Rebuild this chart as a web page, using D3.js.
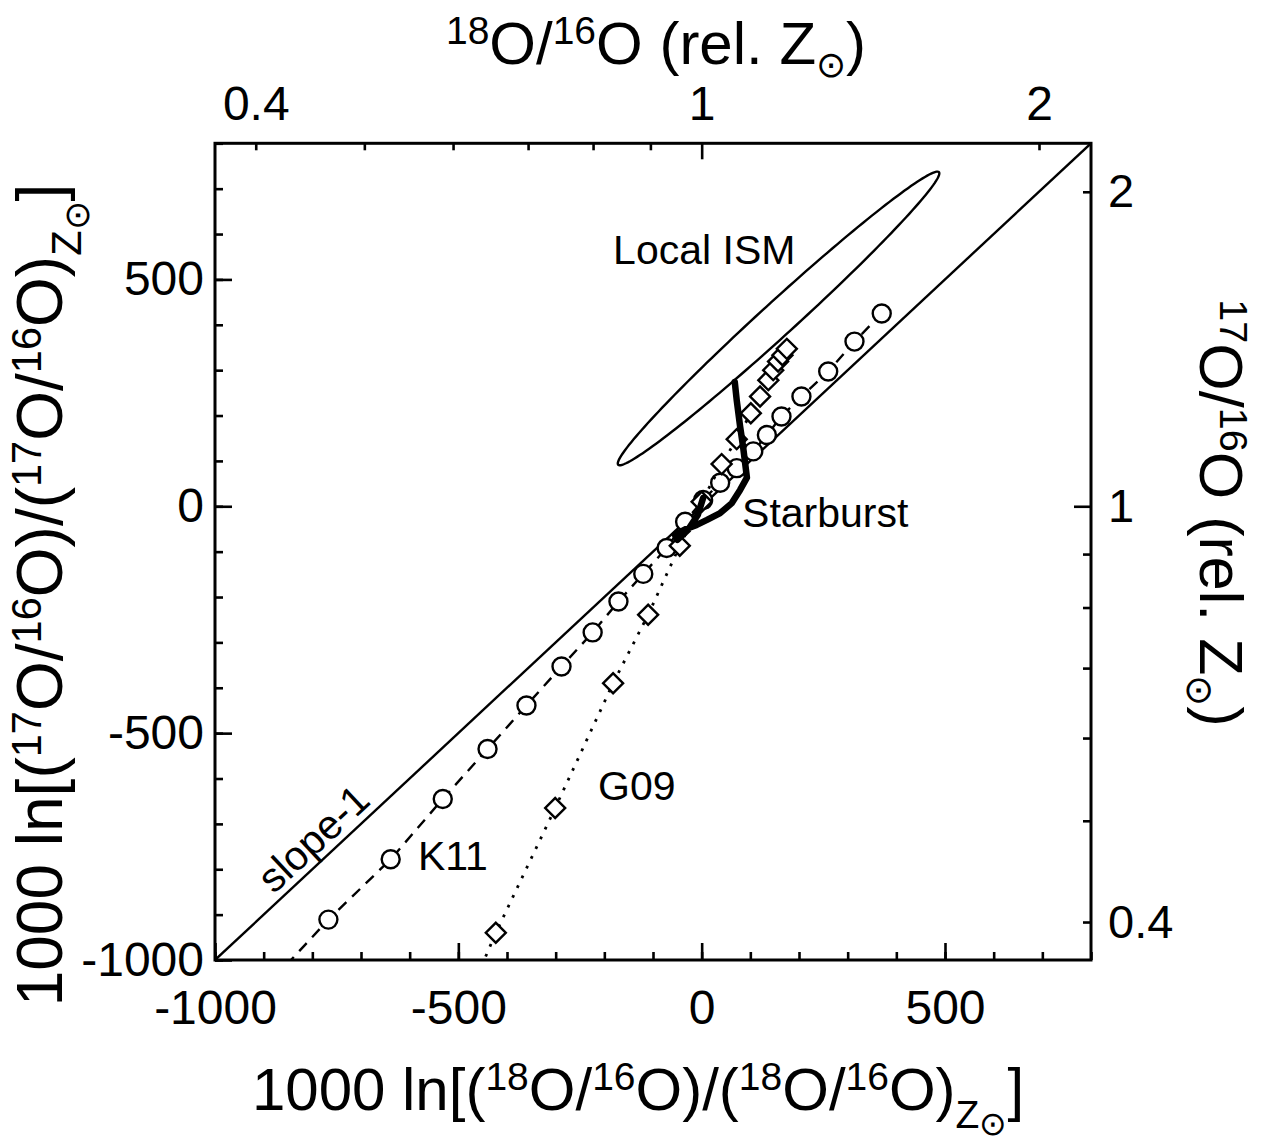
<!DOCTYPE html>
<html><head><meta charset="utf-8">
<script src="https://cdn.jsdelivr.net/npm/d3@7"></script>
<style>body{margin:0;background:#fff}svg{display:block}</style>
</head><body>
<script>
// ---------- data ----------
const xDomain = [-1000, 800];
const yDomain = [-1000, 800];
const linMajorTicks = [-1000, -500, 0, 500];
const linMinorTicks = [-1000,-900,-800,-700,-600,-500,-400,-300,-200,-100,0,100,200,300,400,500,600,700,800];
const ratioMinorTicks = [0.4, 0.5, 0.6, 0.7, 0.8, 0.9, 2];
const ratioMajorTicks = [1];
const ratioLabels = [0.4, 1, 2];

// K11 model (circles, dashed); first point lies below the frame
const k11X = [-880,-767,-639,-532,-440,-360,-288,-224,-171,-120,-72,-34,3,38,72,106,134,164,205,260,314,370];
const k11Y = [-1042,-911,-778,-645,-535,-439,-353,-278,-210,-149,-92,-34,14,52,84,121,157,198,242,297,363,425];
// G09 model (diamonds, dotted); first point lies below the frame
const g09X = [-470,-423,-301,-182,-110,-45,0,41,72,101,120,137,147,157,166,175];
const g09Y = [-1058,-940,-665,-390,-239,-87,10,93,148,205,242,278,300,319,333,347];
// Starburst track (thick line)
const sbX = [3,-8,-28,-50,-55,-32,-10,11,38,62,79,93,85,79,72,68];
const sbY = [18,-19,-52,-74,-63,-50,-41,-30,-15,7,36,63,132,176,234,274];
// Local ISM ellipse (data units)
const ismCenter = [158, 414];
const ismSemiAxes = [461, 36];
const ismAngleDeg = 44.4;
// annotation labels
const labelText = ['Local ISM', 'Starburst', 'G09', 'K11'];
const labelX = [-182, 83, -213, -583];
const labelY = [535, -45, -647, -801];
const slopeLabel = 'slope-1';
const slopeLabelPos = [-778, -755];

// ---------- layout ----------
const W = 1262, H = 1147;
const L = 215, R = 1091, T = 143.3, B = 960;
const FONT = "'Liberation Sans', Arial, Helvetica, sans-serif";

const svg = d3.select('body').append('svg').attr('width', W).attr('height', H)
  .style('font-family', FONT);

const x = d3.scaleLinear().domain(xDomain).range([L, R]);
const y = d3.scaleLinear().domain(yDomain).range([B, T]);
const xr = d3.scaleLog().domain(xDomain.map(v => Math.exp(v / 1000))).range([L, R]);
const yr = d3.scaleLog().domain(yDomain.map(v => Math.exp(v / 1000))).range([B, T]);

svg.append('defs').append('clipPath').attr('id', 'clip')
  .append('rect').attr('x', L).attr('y', T).attr('width', R - L).attr('height', B - T);

const fmt = d => String(d);
function styleAxis(g, fs) {
  g.select('.domain').remove();
  g.selectAll('.tick line').attr('stroke', '#000').attr('stroke-width', 2.6);
  g.selectAll('.tick text').attr('fill', '#000').attr('font-size', fs).attr('font-family', FONT);
}

// bottom
svg.append('g').attr('transform', `translate(0,${B})`)
  .call(d3.axisBottom(x).tickValues(linMinorTicks).tickSize(-8).tickFormat(''))
  .call(g => styleAxis(g, 48));
svg.append('g').attr('transform', `translate(0,${B})`)
  .call(d3.axisBottom(x).tickValues(linMajorTicks).tickSize(-17).tickPadding(30).tickFormat(fmt))
  .call(g => styleAxis(g, 48));
// left
svg.append('g').attr('transform', `translate(${L},0)`)
  .call(d3.axisLeft(y).tickValues(linMinorTicks).tickSize(-8).tickFormat(''))
  .call(g => styleAxis(g, 48));
svg.append('g').attr('transform', `translate(${L},0)`)
  .call(d3.axisLeft(y).tickValues(linMajorTicks).tickSize(-17).tickPadding(11).tickFormat(fmt))
  .call(g => styleAxis(g, 48));
// top (log ratio)
svg.append('g').attr('transform', `translate(0,${T})`)
  .call(d3.axisTop(xr).tickValues(ratioMinorTicks).tickSize(-7).tickFormat(''))
  .call(g => styleAxis(g, 48));
svg.append('g').attr('transform', `translate(0,${T})`)
  .call(d3.axisTop(xr).tickValues(ratioMajorTicks).tickSize(-16).tickFormat(''))
  .call(g => styleAxis(g, 48));
svg.append('g').attr('transform', `translate(0,${T})`)
  .call(d3.axisTop(xr).tickValues(ratioLabels).tickSize(0).tickPadding(23).tickFormat(fmt))
  .call(g => styleAxis(g, 48));
// right (log ratio)
svg.append('g').attr('transform', `translate(${R},0)`)
  .call(d3.axisRight(yr).tickValues(ratioMinorTicks).tickSize(-8).tickFormat(''))
  .call(g => styleAxis(g, 47));
svg.append('g').attr('transform', `translate(${R},0)`)
  .call(d3.axisRight(yr).tickValues(ratioMajorTicks).tickSize(-17).tickFormat(''))
  .call(g => styleAxis(g, 47));
svg.append('g').attr('transform', `translate(${R},0)`)
  .call(d3.axisRight(yr).tickValues(ratioLabels).tickSize(0).tickPadding(17).tickFormat(fmt))
  .call(g => styleAxis(g, 47));

// frame
svg.append('rect').attr('x', L).attr('y', T).attr('width', R - L).attr('height', B - T)
  .attr('fill', 'none').attr('stroke', '#000').attr('stroke-width', 3);

// ---------- plot content ----------
const plot = svg.append('g').attr('clip-path', 'url(#clip)');
const line = d3.line().x(d => x(d[0])).y(d => y(d[1]));

// slope-1 line
plot.append('path').datum([[xDomain[0], yDomain[0]], [xDomain[1], yDomain[1]]])
  .attr('d', line).attr('fill', 'none').attr('stroke', '#000').attr('stroke-width', 2.4);

// Local ISM ellipse
const th = ismAngleDeg * Math.PI / 180;
const ellPts = d3.range(0, 360, 2).map(a => {
  const t = a * Math.PI / 180;
  const u = ismSemiAxes[0] * Math.cos(t), v = ismSemiAxes[1] * Math.sin(t);
  return [ismCenter[0] + u * Math.cos(th) - v * Math.sin(th),
          ismCenter[1] + u * Math.sin(th) + v * Math.cos(th)];
});
plot.append('path').datum(ellPts)
  .attr('d', d3.line().x(d => x(d[0])).y(d => y(d[1])).curve(d3.curveLinearClosed))
  .attr('fill', 'none').attr('stroke', '#000').attr('stroke-width', 2.4);

// K11
const k11 = k11X.map((v, i) => [v, k11Y[i]]);
plot.append('path').datum(k11).attr('d', line).attr('fill', 'none')
  .attr('stroke', '#000').attr('stroke-width', 2.4).attr('stroke-dasharray', '11,8');
plot.selectAll('circle.k11').data(k11).join('circle').attr('class', 'k11')
  .attr('cx', d => x(d[0])).attr('cy', d => y(d[1])).attr('r', 9)
  .attr('fill', '#fff').attr('stroke', '#000').attr('stroke-width', 2.4);

// G09
const g09 = g09X.map((v, i) => [v, g09Y[i]]);
plot.append('path').datum(g09).attr('d', line).attr('fill', 'none')
  .attr('stroke', '#000').attr('stroke-width', 2.8).attr('stroke-dasharray', '2.8,8');
const dia = d3.symbol().type(d3.symbolSquare).size(2 * 10 * 10);
plot.selectAll('path.g09').data(g09).join('path').attr('class', 'g09')
  .attr('d', dia).attr('transform', d => `translate(${x(d[0])},${y(d[1])}) rotate(45)`)
  .attr('fill', '#fff').attr('stroke', '#000').attr('stroke-width', 2.4);

// Starburst
const sb = sbX.map((v, i) => [v, sbY[i]]);
plot.append('path').datum(sb).attr('d', line).attr('fill', 'none')
  .attr('stroke', '#000').attr('stroke-width', 6.5).attr('stroke-linejoin', 'round')
  .attr('stroke-linecap', 'round');

// ---------- annotations ----------
svg.selectAll('text.lab').data(labelText).join('text').attr('class', 'lab')
  .attr('x', (d, i) => x(labelX[i])).attr('y', (d, i) => y(labelY[i]))
  .attr('font-size', 41).attr('fill', '#000').text(d => d);
const slopeAng = Math.atan2(y(yDomain[1]) - y(yDomain[0]), x(xDomain[1]) - x(xDomain[0])) * 180 / Math.PI;
svg.append('text')
  .attr('transform', `translate(${x(slopeLabelPos[0])},${y(slopeLabelPos[1])}) rotate(${slopeAng})`)
  .attr('text-anchor', 'middle').attr('font-size', 41).text(slopeLabel);

// ---------- axis titles with super/subscripts ----------
const SH = {n: [0, 1], sup: [-0.33, 0.65], sub: [0.3, 0.65], sub2: [0.42, 0.55], osub: [0.22, 0.6]};
function rich(sel, parts, fs) {
  const t = sel.attr('font-size', fs).attr('fill', '#000');
  let cur = 0;
  parts.forEach(([txt, k]) => {
    const [s, f] = SH[k];
    const target = s * fs;
    t.append('tspan').attr('dy', target - cur).attr('font-size', f * fs).text(txt);
    cur = target;
  });
}
const ratioTitle = (iso) => [[iso, 'sup'], ['O/', 'n'], ['16', 'sup'], ['O (rel. Z', 'n'], ['\u2299', 'osub'], [')', 'n']];
const lnTitle = (iso) => [['1000 ln[(', 'n'], [iso, 'sup'], ['O/', 'n'], ['16', 'sup'], ['O)/(', 'n'],
  [iso, 'sup'], ['O/', 'n'], ['16', 'sup'], ['O)', 'n'], ['Z', 'sub'], ['\u2299', 'sub2'], [']', 'n']];

rich(svg.append('text').attr('x', 656).attr('y', 64).attr('text-anchor', 'middle'), ratioTitle('18'), 60);
rich(svg.append('text').attr('transform', 'translate(1200,513) rotate(90)').attr('text-anchor', 'middle'), ratioTitle('17'), 61);
rich(svg.append('text').attr('x', 638).attr('y', 1110).attr('text-anchor', 'middle'), lnTitle('18'), 60);
rich(svg.append('text').attr('transform', 'translate(62,595) rotate(-90)').attr('text-anchor', 'middle'), lnTitle('17'), 64);
</script>
</body></html>
